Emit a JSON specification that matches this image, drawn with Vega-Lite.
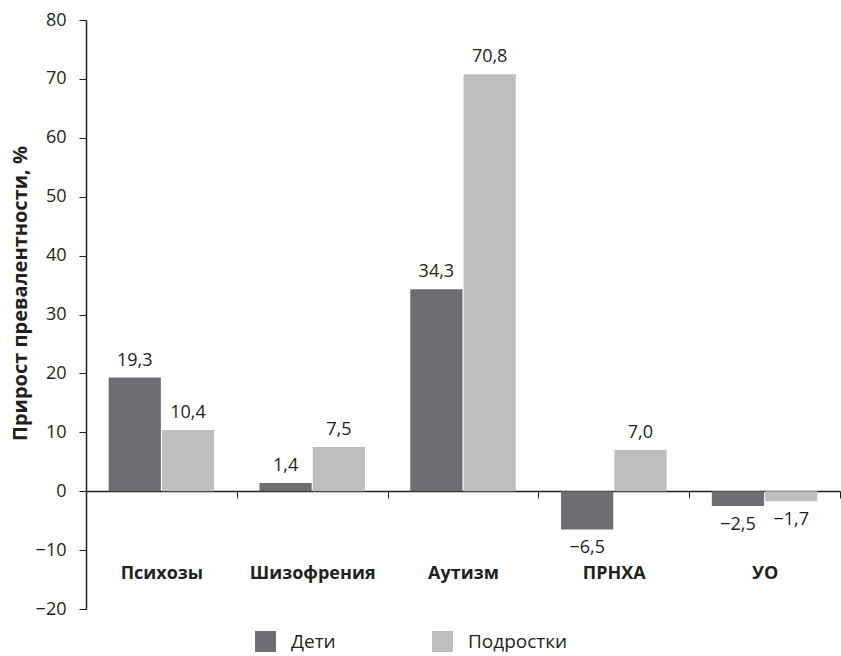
{
  "$schema": "https://vega.github.io/schema/vega-lite/v6.json",
  "width": 754,
  "height": 589,
  "autosize": "none",
  "padding": {"left": 86, "top": 20, "right": 1, "bottom": 47},
  "config": {
    "view": {"stroke": null},
    "font": "Open Sans",
    "locale": {"number": {"decimal": ",", "thousands": " ", "grouping": [3], "currency": ["", ""], "minus": "−"}}
  },
  "data": {
    "values": [
      {"cat": "Психозы", "group": "Дети", "value": 19.3},
      {"cat": "Психозы", "group": "Подростки", "value": 10.4},
      {"cat": "Шизофрения", "group": "Дети", "value": 1.4},
      {"cat": "Шизофрения", "group": "Подростки", "value": 7.5},
      {"cat": "Аутизм", "group": "Дети", "value": 34.3},
      {"cat": "Аутизм", "group": "Подростки", "value": 70.8},
      {"cat": "ПРНХА", "group": "Дети", "value": -6.5},
      {"cat": "ПРНХА", "group": "Подростки", "value": 7.0},
      {"cat": "УО", "group": "Дети", "value": -2.5},
      {"cat": "УО", "group": "Подростки", "value": -1.7}
    ]
  },
  "encoding": {
    "x": {
      "field": "cat", "type": "nominal",
      "sort": ["Психозы", "Шизофрения", "Аутизм", "ПРНХА", "УО"],
      "scale": {"paddingInner": 0, "paddingOuter": 0},
      "axis": {
        "title": null, "labelAngle": 0, "offset": -118,
        "tickBand": "extent", "tickSize": 7, "tickColor": "#231f20", "domainColor": "#231f20",
        "domainWidth": 1.5, "labelPadding": 66, "labelFont": "Open Sans", "labelFontWeight": "bold",
        "labelFontSize": 18, "labelColor": "#231f20"
      }
    },
    "xOffset": {
      "field": "group", "type": "nominal",
      "scale": {"paddingOuter": 0.425, "paddingInner": 0.02}
    },
    "y": {
      "field": "value", "type": "quantitative",
      "scale": {"domain": [-20, 80], "nice": false, "zero": false},
      "axis": {
        "title": "Прирост превалентности, %", "titleFontSize": 20, "titleFontWeight": "bold",
        "titleColor": "#231f20", "titlePadding": 5, "titleFont": "Open Sans", "titleY": 273,
        "values": [-20, -10, 0, 10, 20, 30, 40, 50, 60, 70, 80], "format": "d",
        "grid": false, "tickSize": 7, "tickColor": "#231f20", "domainColor": "#231f20", "domainWidth": 1.5,
        "labelPadding": 13, "labelFontSize": 18, "labelColor": "#231f20", "labelFont": "Open Sans"
      }
    }
  },
  "layer": [
    {
      "mark": {"type": "bar", "strokeWidth": 0},
      "encoding": {
        "color": {
          "field": "group", "type": "nominal",
          "scale": {"domain": ["Дети", "Подростки"], "range": ["#6d6e71", "#bcbec0"]},
          "legend": {
            "title": null, "orient": "none", "direction": "horizontal",
            "legendX": 169, "legendY": 611,
            "symbolType": "square", "symbolSize": 440, "symbolStrokeWidth": 0,
            "labelFontSize": 19, "labelColor": "#231f20", "labelOffset": 15,
            "columnPadding": 96, "labelFont": "Open Sans"
          }
        }
      }
    },
    {
      "transform": [{"filter": "datum.value >= 0"}],
      "mark": {"type": "text", "baseline": "alphabetic", "dy": -12, "fontSize": 18, "color": "#231f20"},
      "encoding": {"text": {"field": "value", "type": "quantitative", "format": ".1f"}}
    },
    {
      "transform": [{"filter": "datum.value < 0"}],
      "mark": {"type": "text", "baseline": "top", "dy": 10, "fontSize": 18, "color": "#231f20"},
      "encoding": {"text": {"field": "value", "type": "quantitative", "format": ".1f"}}
    }
  ]
}
